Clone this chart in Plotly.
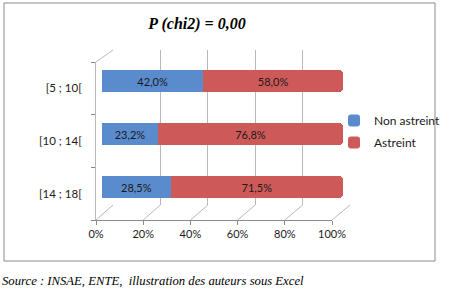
import plotly.graph_objects as go

categories = ["[5 ; 10[", "[10 ; 14[", "[14 ; 18["]
non_astreint = [42.0, 23.2, 28.5]
astreint = [58.0, 76.8, 71.5]
tick_values = [0, 20, 40, 60, 80, 100]
tick_labels = ["0%", "20%", "40%", "60%", "80%", "100%"]
series_names = ["Non astreint", "Astreint"]
colors = ["#5a8bcd", "#cd5a58"]

W, H = 449, 298
def px(x):
    return x / W
def py(y):
    return 1 - y / H

def fmt(v):
    return f"{v:.1f}%".replace(".", ",")

fig = go.Figure()
# empty traces so that the frame axes are drawn (back plane first, then front axes)
fig.add_trace(go.Scatter(x=[], y=[], xaxis="x", yaxis="y", showlegend=False, hoverinfo="skip"))
fig.add_trace(go.Scatter(x=[], y=[], xaxis="x2", yaxis="y2", showlegend=False, hoverinfo="skip"))
for name, vals, col in zip(series_names, [non_astreint, astreint], colors):
    fig.add_trace(go.Bar(
        y=categories, x=vals, name=name, orientation="h",
        xaxis="x3", yaxis="y3", legendgroup=name,
        marker=dict(color=col, line=dict(color=col, width=0)),
        width=0.41,
        text=[fmt(v) for v in vals], textposition="inside",
        insidetextanchor="middle",
        textfont=dict(family="Lato", size=11, color="#1a1a1a"),
        hoverinfo="skip",
    ))

# geometry (pixels)
front = (96, 332)
back = (113, 350)
floor_front_y, floor_back_y = 220, 205
wall_top_front, wall_top_back = 62, 50

grid_col = "#b8b8b8"
axis_col = "#8a8a8a"

fig.update_layout(
    width=W, height=H,
    margin=dict(l=0, r=0, t=0, b=0, autoexpand=False),
    paper_bgcolor="white", plot_bgcolor="rgba(0,0,0,0)",
    barmode="stack", barcornerradius=4,
    showlegend=True,
    legend=dict(x=px(334), y=py(106), xanchor="left", yanchor="top",
                traceorder="grouped", tracegroupgap=3,
                font=dict(family="Lato", size=12, color="#1a1a1a"),
                itemwidth=30, bgcolor="rgba(0,0,0,0)"),
    title=dict(text="<b>P (chi2) = 0,00</b>", x=px(197), y=py(23),
               xanchor="center", yanchor="middle",
               font=dict(family="Liberation Serif", size=16, color="black", style="italic")),
    # back plane (grid)
    xaxis=dict(domain=[px(back[0]), px(back[1])], range=[0, 100], anchor="y",
               tickvals=tick_values, showticklabels=False, ticks="",
               showgrid=True, gridcolor=grid_col, gridwidth=1, zeroline=False,
               showline=False),
    yaxis=dict(domain=[py(floor_back_y), py(wall_top_back)], range=[0, 1], anchor="x",
               visible=False, showgrid=False, zeroline=False),
    # front axes
    xaxis2=dict(domain=[px(front[0]), px(front[1])], range=[0, 100], anchor="y2",
                tickvals=tick_values, ticktext=tick_labels,
                ticks="outside", ticklen=4, tickcolor=axis_col,
                showline=True, linecolor=axis_col, showgrid=False, zeroline=False,
                tickfont=dict(family="Lato", size=11, color="#1a1a1a")),
    yaxis2=dict(domain=[py(floor_front_y), py(wall_top_front)], range=[2.5, -0.5],
                anchor="x2", tickvals=[0, 1, 2], ticktext=categories,
                ticks="", showline=True, linecolor=grid_col, showgrid=False, zeroline=False,
                minor=dict(tickvals=[-0.5, 0.5, 1.5, 2.5], ticks="outside", ticklen=4,
                           tickcolor=axis_col, showgrid=False),
                ticklabelstandoff=11,
                tickfont=dict(family="Lato", size=11.5, color="#1a1a1a")),
    # bars
    xaxis3=dict(domain=[px(102), px(343)], range=[0, 100], visible=False, anchor="y3"),
    yaxis3=dict(domain=[py(213.5), py(54.5)], type="category",
                categoryorder="array", categoryarray=categories,
                autorange="reversed", visible=False, anchor="x3"),
)

shapes = []
for v in tick_values:
    xf = front[0] + (front[1] - front[0]) * v / 100
    xb = back[0] + (back[1] - back[0]) * v / 100
    shapes.append(dict(type="line", xref="paper", yref="paper",
                       x0=px(xf), y0=py(floor_front_y), x1=px(xb), y1=py(floor_back_y),
                       line=dict(color=grid_col, width=1), layer="below"))
shapes.append(dict(type="line", xref="paper", yref="paper",
                   x0=px(front[0]), y0=py(wall_top_front), x1=px(back[0]), y1=py(wall_top_back),
                   line=dict(color=grid_col, width=1), layer="below"))
shapes.append(dict(type="rect", xref="paper", yref="paper",
                   x0=px(4), y0=py(261), x1=px(435), y1=py(3),
                   line=dict(color="#8c8c8c", width=1), fillcolor="rgba(0,0,0,0)", layer="below"))
fig.update_layout(shapes=shapes)

fig.add_annotation(text="Source : INSAE, ENTE,  illustration des auteurs sous Excel",
                   xref="paper", yref="paper", x=0, y=py(281), xanchor="left", yanchor="middle",
                   showarrow=False,
                   font=dict(family="Liberation Serif", size=12.7, color="black", style="italic"))

fig.write_html("out.html")
